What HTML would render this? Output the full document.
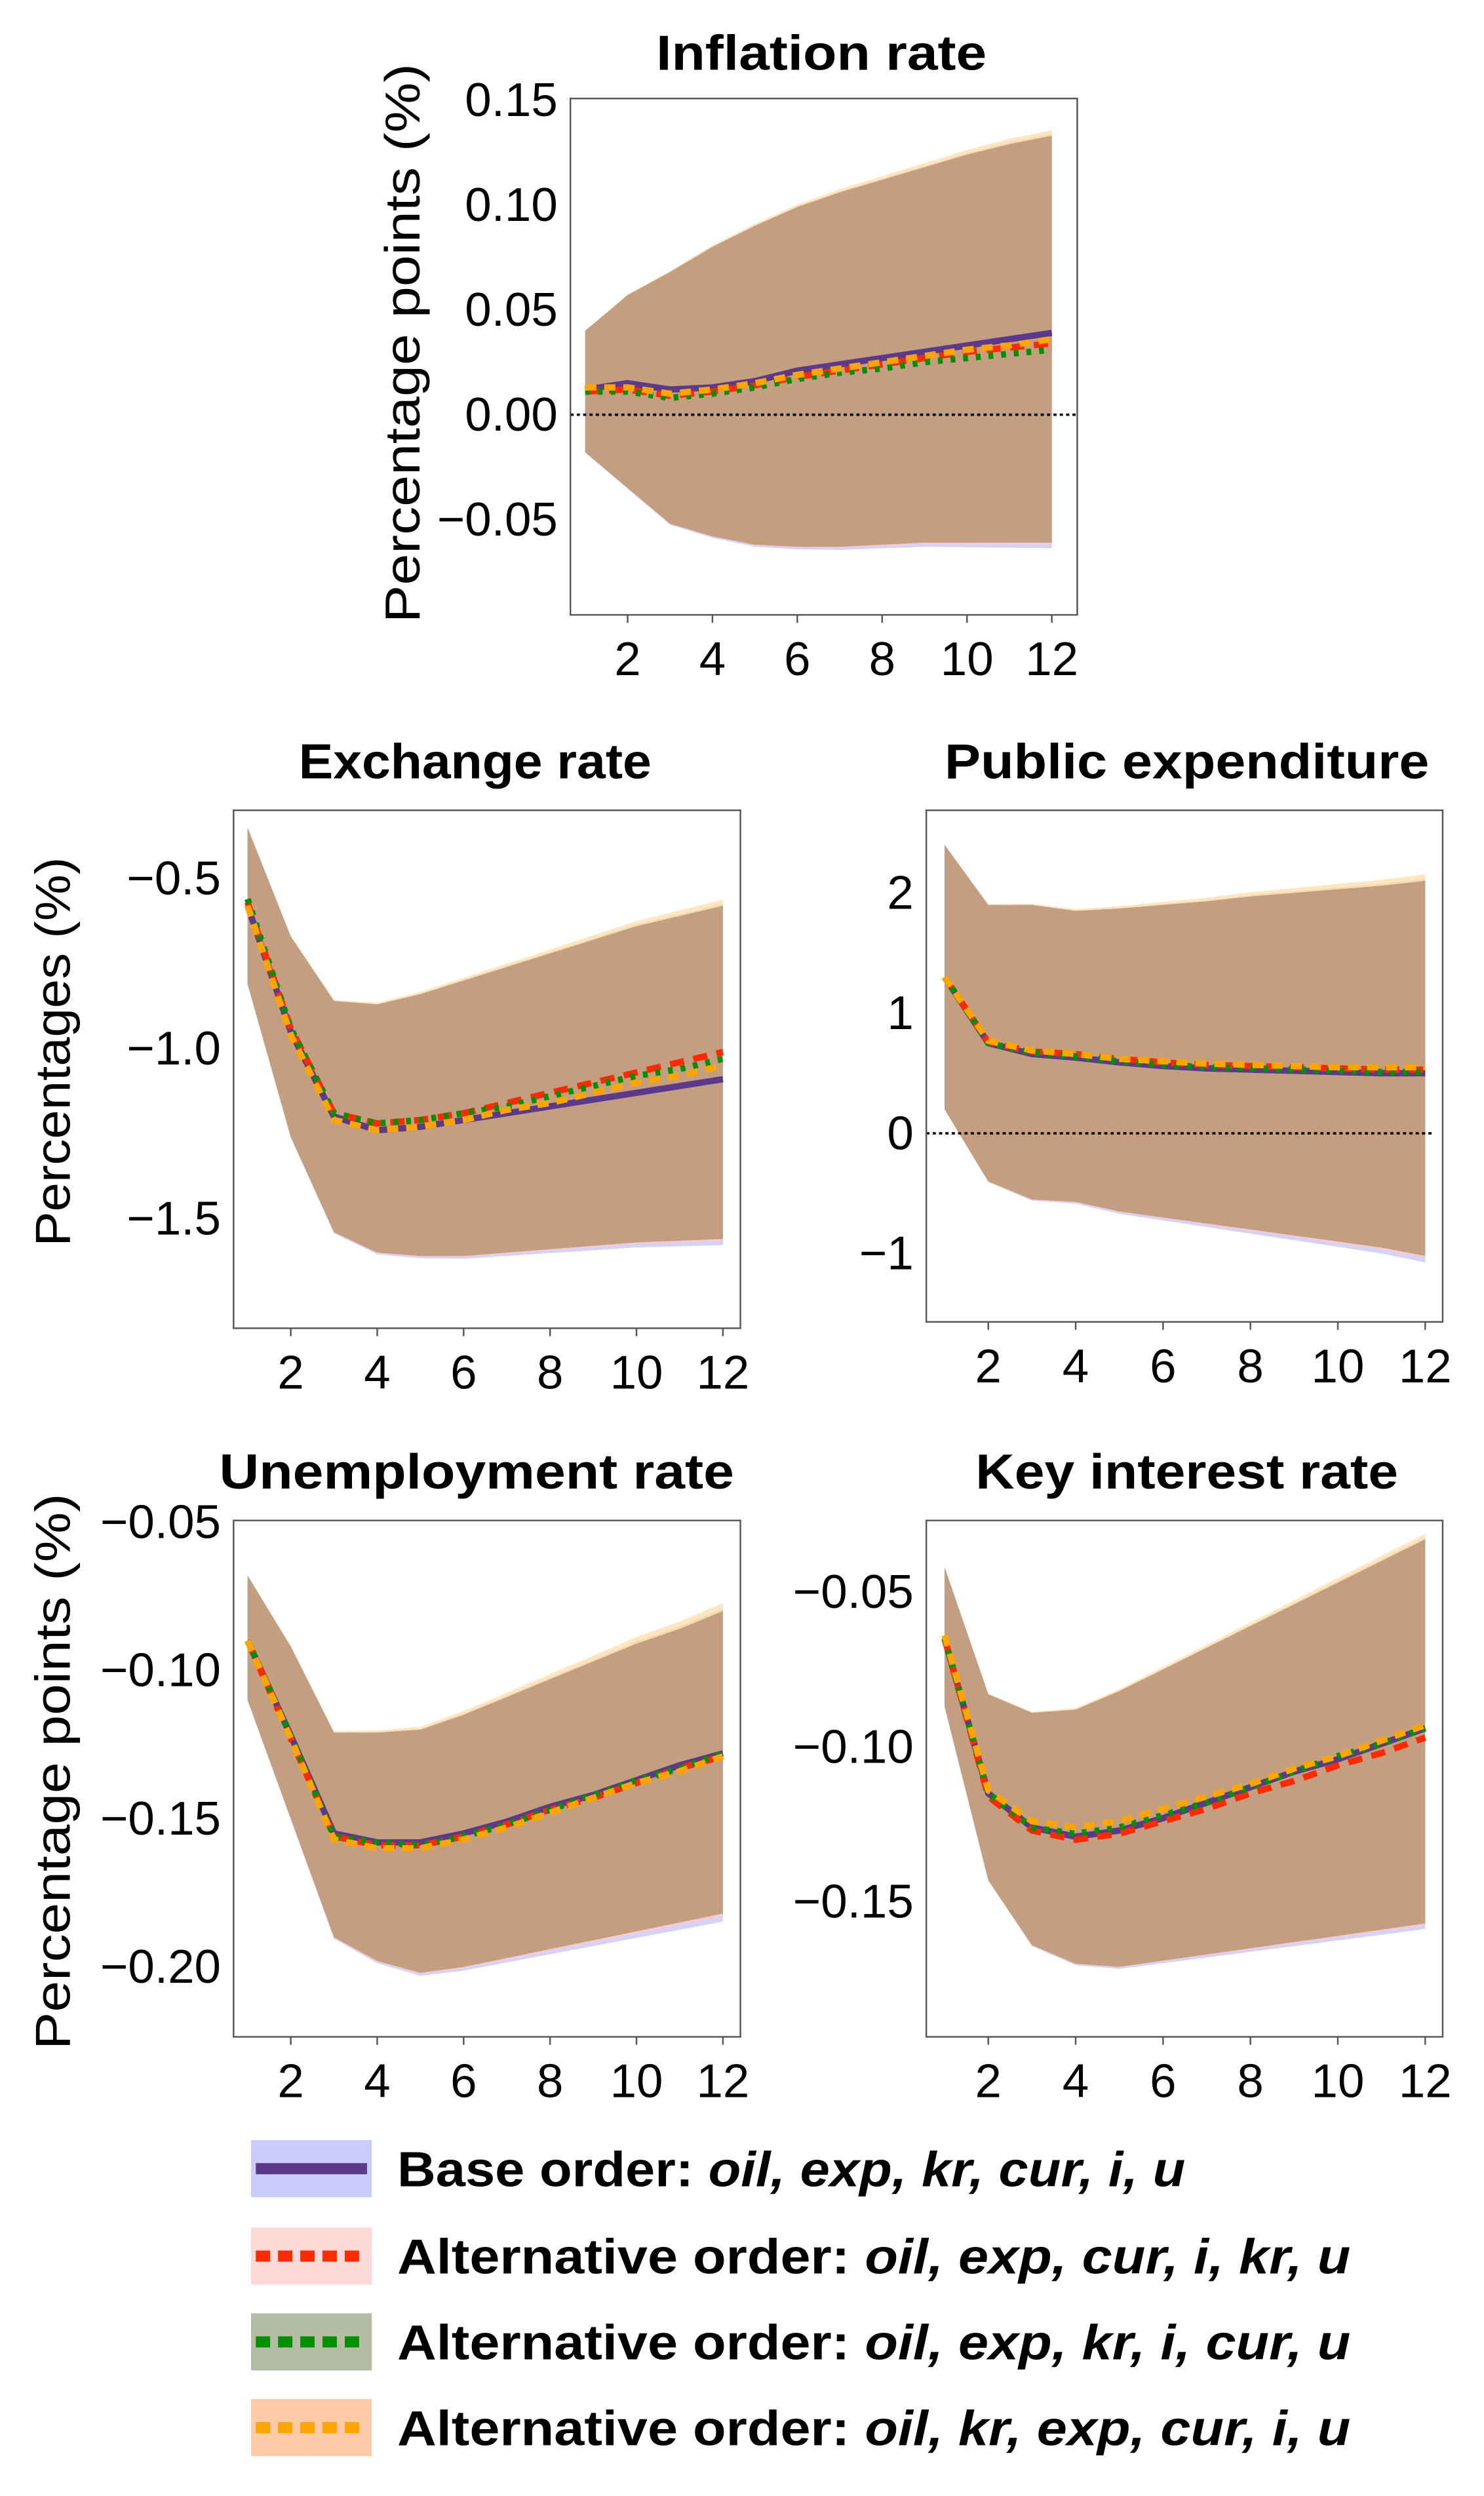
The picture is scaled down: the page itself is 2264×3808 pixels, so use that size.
<!DOCTYPE html>
<html><head><meta charset="utf-8"><style>
html,body{margin:0;padding:0;background:#fff;}
svg{display:block;}
text{font-family:"Liberation Sans",sans-serif;}
</style></head><body>
<svg id="fig" width="2264" height="3808" viewBox="0 0 934 1571" xmlns="http://www.w3.org/2000/svg"></svg>
<script>
const horizons=[1,2,3,4,5,6,7,8,9,10,11,12];
const xTicks=[2,4,6,8,10,12];
// Inflation
const infUpper=[0.040,0.057,0.068,0.080,0.090,0.099,0.106,0.112,0.118,0.124,0.129,0.133];
const infLower=[-0.018,-0.035,-0.052,-0.058,-0.062,-0.063,-0.063,-0.062,-0.061,-0.061,-0.061,-0.061];
const infBase=[0.012,0.015,0.012,0.013,0.016,0.021,0.024,0.027,0.030,0.033,0.036,0.039];
const infRed=[0.011,0.012,0.009,0.011,0.014,0.018,0.021,0.024,0.027,0.030,0.032,0.034];
const infGreen=[0.011,0.011,0.008,0.010,0.013,0.017,0.020,0.022,0.025,0.027,0.029,0.031];
const infOrange=[0.013,0.013,0.010,0.012,0.015,0.019,0.022,0.025,0.028,0.031,0.033,0.036];
const infTicks=[0.15,0.10,0.05,0.00,-0.05];
// Exchange
const exUpper=[-0.35,-0.67,-0.86,-0.87,-0.84,-0.80,-0.76,-0.72,-0.68,-0.64,-0.61,-0.58];
const exLower=[-0.81,-1.26,-1.54,-1.60,-1.61,-1.61,-1.60,-1.59,-1.58,-1.57,-1.565,-1.56];
const exBase=[-0.58,-0.95,-1.20,-1.24,-1.23,-1.21,-1.19,-1.17,-1.15,-1.13,-1.11,-1.09];
const exRed=[-0.57,-0.94,-1.19,-1.22,-1.21,-1.19,-1.16,-1.13,-1.10,-1.07,-1.04,-1.01];
const exGreen=[-0.56,-0.94,-1.19,-1.22,-1.21,-1.19,-1.17,-1.14,-1.11,-1.08,-1.06,-1.03];
const exOrange=[-0.58,-0.96,-1.21,-1.24,-1.23,-1.21,-1.18,-1.16,-1.13,-1.10,-1.08,-1.05];
const exTicks=[-0.5,-1.0,-1.5];
// Public expenditure
const peUpper=[2.4,1.9,1.9,1.85,1.87,1.9,1.93,1.97,2.0,2.03,2.06,2.1];
const peLower=[0.2,-0.4,-0.55,-0.57,-0.65,-0.7,-0.75,-0.8,-0.85,-0.9,-0.95,-1.02];
const peBase=[1.3,0.75,0.66,0.63,0.59,0.56,0.54,0.53,0.52,0.51,0.50,0.50];
const peRed=[1.3,0.76,0.68,0.66,0.62,0.59,0.57,0.56,0.55,0.54,0.53,0.53];
const peGreen=[1.3,0.75,0.67,0.64,0.60,0.57,0.55,0.54,0.53,0.52,0.51,0.51];
const peOrange=[1.3,0.77,0.69,0.66,0.62,0.60,0.58,0.57,0.56,0.55,0.55,0.55];
const peTicks=[2,1,0,-1];
// Unemployment
const unUpper=[-0.068,-0.092,-0.121,-0.121,-0.120,-0.115,-0.109,-0.103,-0.097,-0.091,-0.086,-0.080];
const unLower=[-0.110,-0.150,-0.190,-0.198,-0.202,-0.200,-0.197,-0.194,-0.191,-0.188,-0.185,-0.182];
const unBase=[-0.090,-0.122,-0.155,-0.158,-0.158,-0.155,-0.151,-0.146,-0.142,-0.137,-0.132,-0.128];
const unRed=[-0.090,-0.123,-0.156,-0.159,-0.159,-0.156,-0.152,-0.147,-0.143,-0.138,-0.133,-0.129];
const unGreen=[-0.090,-0.122,-0.156,-0.158,-0.159,-0.156,-0.152,-0.147,-0.142,-0.137,-0.133,-0.128];
const unOrange=[-0.090,-0.123,-0.157,-0.160,-0.160,-0.157,-0.153,-0.148,-0.143,-0.138,-0.134,-0.129];
const unTicks=[-0.05,-0.10,-0.15,-0.20];
// Key interest
const kiUpper=[-0.042,-0.083,-0.089,-0.088,-0.082,-0.075,-0.068,-0.061,-0.054,-0.047,-0.040,-0.033];
const kiLower=[-0.087,-0.143,-0.164,-0.170,-0.171,-0.169,-0.167,-0.165,-0.163,-0.161,-0.159,-0.157];
const kiBase=[-0.065,-0.115,-0.126,-0.129,-0.127,-0.123,-0.118,-0.113,-0.108,-0.104,-0.099,-0.094];
const kiRed=[-0.065,-0.116,-0.127,-0.130,-0.128,-0.124,-0.120,-0.115,-0.111,-0.106,-0.102,-0.097];
const kiGreen=[-0.065,-0.115,-0.126,-0.128,-0.126,-0.122,-0.118,-0.113,-0.108,-0.103,-0.099,-0.094];
const kiOrange=[-0.064,-0.114,-0.124,-0.126,-0.124,-0.120,-0.116,-0.112,-0.107,-0.103,-0.098,-0.093];
const kiTicks=[-0.05,-0.10,-0.15];

const NS="http://www.w3.org/2000/svg";
const svg=document.getElementById('fig');
function mk(tag,attrs,parent){const e=document.createElementNS(NS,tag);for(const k in attrs)e.setAttribute(k,attrs[k]);(parent||svg).appendChild(e);return e;}

const panels=[
 {name:'inflation',title:'Inflation rate',tl:208,box:[359,62,678,387],x2:395,x12:662,yv:[0.15,0.00],yp:[63,261],up:infUpper,lo:infLower,lines:[infBase,infRed,infGreen,infOrange],ticks:infTicks,fmt:v=>v.toFixed(2),zero:true,tx:517,ty:44},
 {name:'exchange',title:'Exchange rate',tl:222,box:[147,510,466,836],x2:183,x12:455,yv:[-0.5,-1.5],yp:[553,767],up:exUpper,lo:exLower,lines:[exBase,exRed,exGreen,exOrange],ticks:exTicks,fmt:v=>v.toFixed(1),zero:false,tx:299,ty:490},
 {name:'public-expenditure',title:'Public expenditure',tl:305,box:[583,510,908,832],x2:622,x12:897,yv:[2,-1],yp:[562,789],up:peUpper,lo:peLower,lines:[peBase,peRed,peGreen,peOrange],ticks:peTicks,fmt:v=>String(v),zero:true,tx:747,ty:490},
 {name:'unemployment',title:'Unemployment rate',tl:324,box:[147,957,466,1282],x2:183,x12:455,yv:[-0.05,-0.20],yp:[958,1238],up:unUpper,lo:unLower,lines:[unBase,unRed,unGreen,unOrange],ticks:unTicks,fmt:v=>v.toFixed(2),zero:false,tx:300,ty:937},
 {name:'key-interest',title:'Key interest rate',tl:266,box:[583,957,908,1282],x2:622,x12:897,yv:[-0.05,-0.15],yp:[1002,1197],up:kiUpper,lo:kiLower,lines:[kiBase,kiRed,kiGreen,kiOrange],ticks:kiTicks,fmt:v=>v.toFixed(2),zero:false,tx:747,ty:937}
];
const bandCols=['#c8c8f8','#ffc8c8','#b4bca4','#ffe0b0'];
const lineStyles=[
 {c:'#5b3a8c',w:4,d:''},
 {c:'#ff2a00',w:4,d:'9,6'},
 {c:'#009000',w:4,d:'3,5'},
 {c:'#ffa500',w:4,d:'7,5'}];
const lineNames=['base','alt-red','alt-green','alt-orange'];

panels.forEach(p=>{
 const g=mk('g',{});
 
 
 const xs=k=>p.x2+(k-2)*(p.x12-p.x2)/10;
 const ys=v=>p.yp[0]+(v-p.yv[0])*(p.yp[1]-p.yp[0])/(p.yv[1]-p.yv[0]);
 const [x0,y0,x1,y1]=p.box;
 bandCols.forEach((c,i)=>{
  const off=(i-1.5)*0.012*(p.yv[0]-p.yv[1]);
  let d='M'+horizons.map((h,j)=>xs(h)+','+ys(p.up[j]+off*(j/11))).join('L');
  d+='L'+horizons.slice().reverse().map((h,jj)=>{const j=11-jj;return xs(h)+','+ys(p.lo[j]+off*(j/11));}).join('L')+'Z';
  const b=mk('path',{d:d,fill:c,opacity:0.8},g);
  
  
 });
 let d='M'+horizons.map((h,j)=>xs(h)+','+ys(p.up[j])).join('L');
 d+='L'+horizons.slice().reverse().map((h,jj)=>xs(h)+','+ys(p.lo[11-jj])).join('L')+'Z';
 const core=mk('path',{d:d,fill:'#c49e80'},g);
 
 
 if(p.zero){
  const z=mk('line',{x1:x0,x2:x1+(p.name==='public-expenditure'?-7:0),y1:ys(0),y2:ys(0),stroke:'#000','stroke-width':1.5,'stroke-dasharray':'2,2'},g);
  
  
 }
 p.lines.forEach((arr,i)=>{
  const s=lineStyles[i];
  const l=mk('polyline',{points:horizons.map((h,j)=>xs(h)+','+ys(arr[j])).join(' '),fill:'none',stroke:s.c,'stroke-width':s.w},g);
  if(s.d)l.setAttribute('stroke-dasharray',s.d);
  
  
 });
 const fr=mk('rect',{x:x0,y:y0,width:x1-x0,height:y1-y0,fill:'none',stroke:'#555','stroke-width':1},g);
 
 
 xTicks.forEach(t=>{
  mk('line',{x1:xs(t),x2:xs(t),y1:y1,y2:y1+5,stroke:'#555','stroke-width':1},g);
  const tl=mk('text',{x:xs(t),y:y1+38,'font-size':30,'text-anchor':'middle'},g);
  tl.textContent=String(t);
  
  
 });
 p.ticks.forEach(t=>{
  const tl=mk('text',{x:x0-8,y:ys(t)+10,'font-size':30,'text-anchor':'end'},g);
  tl.textContent=p.fmt(t).replace('-','\u2212');
  
  
 });
 const tt=mk('text',{x:p.tx,y:p.ty,'font-size':31,'font-weight':'bold','text-anchor':'middle',textLength:p.tl,lengthAdjust:'spacingAndGlyphs'},g);
 tt.textContent=p.title;
 
 
});

const yl=[['Percentage points  (%)',264,216,352],['Percentages (%)',44,662,245],['Percentage points  (%)',44,1115,350]];
yl.forEach(a=>{
 const t=mk('text',{x:a[1],y:a[2],'font-size':31,'text-anchor':'middle',textLength:a[3],lengthAdjust:'spacingAndGlyphs',transform:'rotate(-90 '+a[1]+' '+a[2]+')'});
 t.textContent=a[0];
 
 
});

const legLabels=['Base order: ','Alternative order: ','Alternative order: ','Alternative order: '];
const legOrders=['oil, exp, kr, cur, i, u','oil, exp, cur, i, kr, u','oil, exp, kr, i, cur, u','oil, kr, exp, cur, i, u'];
const legBg=['#ccccfc','#ffd8d8','#b4bca4','#ffcaa8'];
const legY=[1365,1420,1474,1528];
const legLen=[496,600,600,600];
legLabels.forEach((lab,i)=>{
 const g=mk('g',{});
 
 
 mk('rect',{x:158,y:legY[i]-18,width:76,height:36,fill:legBg[i]},g);
 const s=lineStyles[i];
 const l=mk('line',{x1:161,x2:231,y1:legY[i],y2:legY[i],stroke:s.c,'stroke-width':7},g);
 if(i>0)l.setAttribute('stroke-dasharray','9,5');
 const t=mk('text',{x:250,y:legY[i]+11,'font-size':31,'font-weight':'bold',textLength:legLen[i],lengthAdjust:'spacingAndGlyphs'},g);
 const a=mk('tspan',{},t);a.textContent=lab;
 const b=mk('tspan',{'font-style':'italic'},t);b.textContent=legOrders[i];
});
</script>
</body></html>
